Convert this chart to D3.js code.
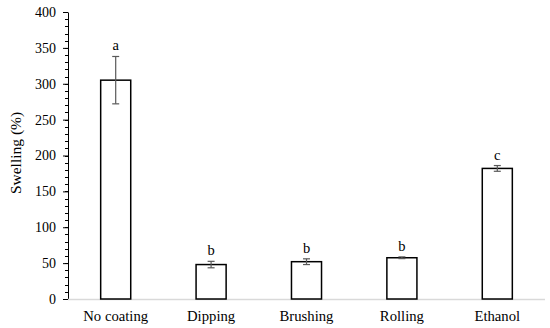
<!DOCTYPE html>
<html>
<head>
<meta charset="utf-8">
<script src="https://cdn.jsdelivr.net/npm/d3@7"></script>
<style>
  body { margin: 0; background: #fff; }
</style>
</head>
<body>
<script>
// Chart data
var categories = ["No coating", "Dipping", "Brushing", "Rolling", "Ethanol"];
var swelling = [305, 48, 52, 57.5, 182];
var errors = [33, 4.5, 4, 1.2, 4];
var letters = ["a", "b", "b", "b", "c"];
var yTicks = [0, 50, 100, 150, 200, 250, 300, 350, 400];

var width = 550, height = 328;
var margin = { top: 12, right: 5, bottom: 29, left: 68 };
var serif = "'Liberation Serif', 'Times New Roman', serif";

var svg = d3.select("body").append("svg")
  .attr("width", width)
  .attr("height", height);

// Scales
var x = d3.scaleBand()
  .domain(categories)
  .range([margin.left, width - margin.right])
  .paddingInner(0.685)
  .paddingOuter(0.3425);

var y = d3.scaleLinear()
  .domain([0, 400])
  .range([height - margin.bottom, margin.top]);

// Minor ticks on y axis
svg.append("g")
  .attr("transform", "translate(" + margin.left + ",0)")
  .selectAll("line")
  .data(d3.range(0, 401, 10))
  .enter().append("line")
  .attr("x1", -3).attr("x2", 0)
  .attr("y1", function (d) { return Math.round(y(d)) + 0.5; })
  .attr("y2", function (d) { return Math.round(y(d)) + 0.5; })
  .attr("stroke", "#000")
  .attr("stroke-width", 1);

// Y axis
var yAxis = svg.append("g")
  .attr("transform", "translate(" + margin.left + ",0)")
  .call(d3.axisLeft(y).tickValues(yTicks).tickSize(5).tickPadding(7).tickSizeOuter(0));
yAxis.select(".domain").attr("stroke", "#000");
yAxis.selectAll(".tick line").attr("stroke", "#000");
yAxis.selectAll("text").style("font-size", "14px").style("font-family", serif);

// X baseline
svg.append("line")
  .attr("x1", margin.left)
  .attr("x2", width - margin.right)
  .attr("y1", y(0) + 0.5)
  .attr("y2", y(0) + 0.5)
  .attr("stroke", "#d9d9d9")
  .attr("stroke-width", 1.3);

// Bars
svg.selectAll(".bar")
  .data(categories)
  .enter().append("rect")
  .attr("class", "bar")
  .attr("x", function (d) { return x(d); })
  .attr("y", function (d, i) { return y(swelling[i]); })
  .attr("width", x.bandwidth())
  .attr("height", function (d, i) { return y(0) - y(swelling[i]); })
  .attr("fill", "#fff")
  .attr("stroke", "#000")
  .attr("stroke-width", 1.5);

// Error bars
var eb = svg.selectAll(".err")
  .data(categories)
  .enter().append("g")
  .attr("class", "err")
  .attr("stroke", "#595959")
  .attr("stroke-width", 1.2);

eb.append("line")
  .attr("x1", function (d) { return x(d) + x.bandwidth() / 2; })
  .attr("x2", function (d) { return x(d) + x.bandwidth() / 2; })
  .attr("y1", function (d, i) { return y(swelling[i] + errors[i]); })
  .attr("y2", function (d, i) { return y(swelling[i] - errors[i]); });

[1, -1].forEach(function (s) {
  eb.append("line")
    .attr("x1", function (d) { return x(d) + x.bandwidth() / 2 - 3.5; })
    .attr("x2", function (d) { return x(d) + x.bandwidth() / 2 + 3.5; })
    .attr("y1", function (d, i) { return y(swelling[i] + s * errors[i]); })
    .attr("y2", function (d, i) { return y(swelling[i] + s * errors[i]); });
});

// Significance letters
svg.selectAll(".letter")
  .data(categories)
  .enter().append("text")
  .attr("class", "letter")
  .attr("x", function (d) { return x(d) + x.bandwidth() / 2; })
  .attr("y", function (d, i) { return y(swelling[i] + errors[i]) - 6; })
  .attr("text-anchor", "middle")
  .style("font-family", serif)
  .style("font-size", "14.5px")
  .text(function (d, i) { return letters[i]; });

// Category labels
svg.selectAll(".cat")
  .data(categories)
  .enter().append("text")
  .attr("class", "cat")
  .attr("x", function (d) { return x(d) + x.bandwidth() / 2; })
  .attr("y", 321)
  .attr("text-anchor", "middle")
  .style("font-family", serif)
  .style("font-size", "14.7px")
  .text(function (d) { return d; });

// Y title
svg.append("text")
  .attr("transform", "translate(21,153) rotate(-90)")
  .attr("text-anchor", "middle")
  .style("font-family", serif)
  .style("font-size", "15.5px")
  .text("Swelling (%)");
</script>
</body>
</html>
